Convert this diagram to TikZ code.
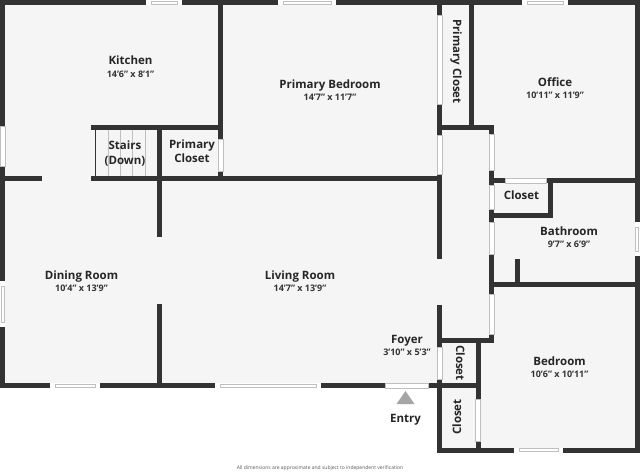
\documentclass[tikz,border=0pt]{standalone}
\usepackage{fontspec}
\setmainfont{Open Sans}
\definecolor{wallc}{HTML}{333333}
\definecolor{floorc}{HTML}{F5F5F5}
\tikzset{
  wall/.style={line width=5pt,wallc},
  thinwall/.style={line width=1pt,wallc},
  tread/.style={line width=0.5pt,black!25},
  room/.style={align=center,font=\fontsize{11.5}{14.5}\selectfont\bfseries,text=black!85,inner sep=0pt},
  dims/.style={font=\fontsize{9}{10}\selectfont\bfseries,text=black!80,inner sep=0pt,anchor=base},
  edge/.style={line width=0.4pt,black!25}
}
% horizontal and vertical window: x1,x2,y or y1,y2,x
\newcommand{\hwin}[3]{
  \fill[white] (#1,#3-2.5) rectangle (#2,#3+2.5);
  \draw[edge] (#1+5,#3-1.5) rectangle (#2-5,#3+1.5);
}
\newcommand{\vwin}[3]{
  \fill[white] (#3-2.5,#1) rectangle (#3+2.5,#2);
  \draw[edge] (#3-1.5,#1+5) rectangle (#3+1.5,#2-5);
}
\newcommand{\vdoor}[3]{
  \fill[white] (#3-2.5,#1) rectangle (#3+2.5,#2);
  \draw[edge] (#3-2.5,#1) rectangle (#3+2.5,#2);
}
\newcommand{\hdoor}[3]{
  \fill[white] (#1,#3-2.5) rectangle (#2,#3+2.5);
  \draw[edge] (#1,#3-2.5) rectangle (#2,#3+2.5);
}
\begin{document}
\begin{tikzpicture}[x=1pt,y=-1pt]
\useasboundingbox (0,0) rectangle (640,472);
\fill[white] (0,0) rectangle (640,472);
\fill[floorc] (0,0) rectangle (640,385);
\fill[floorc] (437,385) rectangle (640,452);
% stairs
\foreach \x in {108,120.5,132.5,145} \draw[tread] (\x,127) -- (\x,178);
\draw[thinwall] (95.5,127) -- (95.5,178);
% walls
\draw[wall] (0,2.5) -- (640,2.5);
\draw[wall] (2.5,0) -- (2.5,388);
\draw[wall] (637,0) -- (637,452.5);
\draw[wall] (0,385.5) -- (478,385.5);
\draw[wall] (437,450) -- (640,450);
\draw[wall] (220.5,0) -- (220.5,181);
\draw[wall] (91,127.5) -- (223,127.5);
\draw[wall] (0,178.5) -- (42,178.5);
\draw[wall] (91,178.5) -- (442,178.5);
\draw[wall] (159.5,127) -- (159.5,237);
\draw[wall] (159.5,304) -- (159.5,385);
\draw[wall] (439.5,0) -- (439.5,259);
\draw[wall] (439.5,305) -- (439.5,452);
\draw[wall] (471.5,0) -- (471.5,127);
\draw[wall] (437,127) -- (494,127);
\draw[wall] (491.5,125) -- (491.5,343);
\draw[wall] (491,180.5) -- (637,180.5);
\draw[wall] (550.5,180) -- (550.5,218);
\draw[wall] (491,215.5) -- (553,215.5);
\draw[wall] (491,284.5) -- (637,284.5);
\draw[wall] (517,259) -- (517,285);
\draw[wall] (437,340.5) -- (494,340.5);
\draw[wall] (478,340) -- (478,452);
% windows
\hwin{146}{182}{2.5}
\hwin{278}{336}{2.5}
\hwin{522}{568}{2.5}
\hwin{50}{100}{385.5}
\hwin{215}{321}{385.5}
\hwin{514}{563}{450}
\vwin{281}{327}{2.5}
\vwin{222}{256}{637}
% doors
\vdoor{126}{166}{2.5}
\vdoor{139}{171}{220.5}
\vdoor{15}{104}{439.5}
\vdoor{135}{174}{439.5}
\vdoor{347}{379}{439.5}
\vdoor{134}{170}{491.5}
\vdoor{185}{209}{491.5}
\vdoor{222}{254}{491.5}
\vdoor{294}{334}{491.5}
\vdoor{399}{441}{478}
\hdoor{505}{546}{180.5}
\hdoor{385}{428}{385.5}
% labels
\node[room,anchor=base] (kitchen) at (130.5,64.5) {Kitchen};
\node[dims] (kitchendim) at (130.5,77) {14'6" x 8'1"};
\node[room,anchor=base] (bedroom1) at (330,88.3) {Primary Bedroom};
\node[dims] (bedroom1dim) at (330,100.5) {14'7" x 11'7"};
\node[room,rotate=-90,anchor=base] (closet1) at (453,61.5) {Primary Closet};
\node[room,anchor=base] (office) at (555,86) {Office};
\node[dims] (officedim) at (555,98.7) {10'11" x 11'9"};
\node[room] (stairs) at (125,153.5) {Stairs\\(Down)};
\node[room] (closet2) at (192,151) {Primary\\Closet};
\node[room,anchor=base] (closet3) at (521.5,199) {Closet};
\node[room,anchor=base] (bathroom) at (569,235.5) {Bathroom};
\node[dims] (bathroomdim) at (569,247.5) {9'7" x 6'9"};
\node[room,anchor=base] (dining) at (81.5,279.5) {Dining Room};
\node[dims] (diningdim) at (81.5,291.5) {10'4" x 13'9"};
\node[room,anchor=base] (living) at (300,279.5) {Living Room};
\node[dims] (livingdim) at (300,291.5) {14'7" x 13'9"};
\node[room,anchor=base] (foyer) at (407,343.5) {Foyer};
\node[dims] (foyerdim) at (407,355.5) {3'10" x 5'3"};
\node[room,rotate=-90,anchor=base] (closet4) at (456,363) {Closet};
\node[room,rotate=90,anchor=base] (closet5) at (461,417) {Closet};
\node[room,anchor=base] (bedroom2) at (559.5,365.3) {Bedroom};
\node[dims] (bedroom2dim) at (559.5,377.5) {10'6" x 10'11"};
\fill[black!35] (405.5,391) -- (414.5,404) -- (396.5,404) -- cycle;
\node[room,anchor=base] (entry) at (405.5,422) {Entry};
\node[font=\fontsize{5}{6}\selectfont,text=black!65,inner sep=0pt] (note) at (320,468.5) {All dimensions are approximate and subject to independent verification};
\end{tikzpicture}
\end{document}
